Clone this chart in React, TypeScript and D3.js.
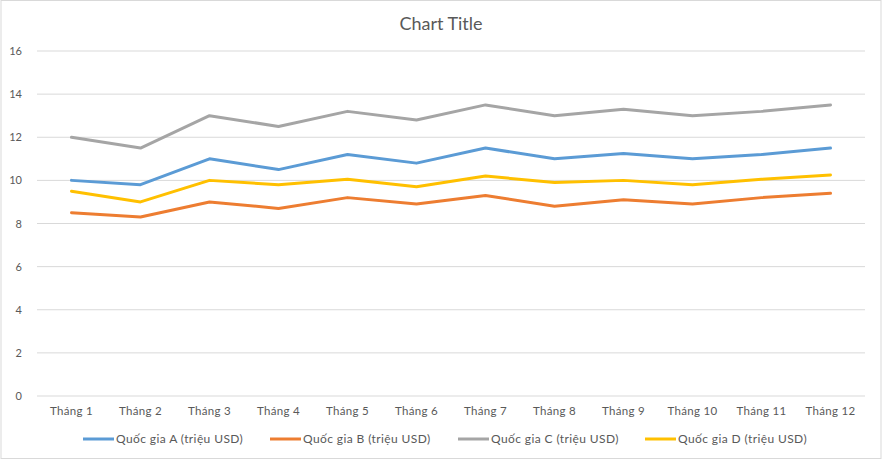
import React from "react";
import * as d3 from "d3";

const months = ["Tháng 1","Tháng 2","Tháng 3","Tháng 4","Tháng 5","Tháng 6","Tháng 7","Tháng 8","Tháng 9","Tháng 10","Tháng 11","Tháng 12"];
const seriesNames = ["Quốc gia A (triệu USD)","Quốc gia B (triệu USD)","Quốc gia C (triệu USD)","Quốc gia D (triệu USD)"];
const valuesA = [10, 9.8, 11, 10.5, 11.2, 10.8, 11.5, 11, 11.25, 11, 11.2, 11.5];
const valuesB = [8.5, 8.3, 9, 8.7, 9.2, 8.9, 9.3, 8.8, 9.1, 8.9, 9.2, 9.4];
const valuesC = [12, 11.5, 13, 12.5, 13.2, 12.8, 13.5, 13, 13.3, 13, 13.2, 13.5];
const valuesD = [9.5, 9, 10, 9.8, 10.05, 9.7, 10.2, 9.9, 10, 9.8, 10.05, 10.25];
const yTicks = [0, 2, 4, 6, 8, 10, 12, 14, 16];
const colors = ["#5B9BD5", "#ED7D31", "#A5A5A5", "#FFC000"];

const W = 885, H = 464;
const FONT = "Lato, 'Open Sans', sans-serif";

export default function App() {
  const x = d3.scaleBand<string>().domain(months).range([37, 865]);
  const y = d3.scaleLinear().domain([0, 16]).range([396, 51]);
  const all = [valuesA, valuesB, valuesC, valuesD];
  const line = d3.line<number>()
    .x((_, i) => (x(months[i]) as number) + x.bandwidth() / 2)
    .y((v) => y(v));
  const legendX = [83, 270, 458, 645];
  return (
    <svg width={W} height={H} style={{ position: "absolute", left: 0, top: 0, background: "#fff" }}>
      <rect x={1} y={0.5} width={880} height={458} fill="#fff" stroke="#D9D9D9" />
      <text x={441} y={30} textAnchor="middle" fontFamily={FONT} fontSize={18} fill="#595959">Chart Title</text>
      {yTicks.map((t) => (
        <g key={t}>
          <line x1={37} x2={865} y1={y(t)} y2={y(t)} stroke="#D9D9D9" strokeWidth={1} />
          <text x={22} y={y(t) + 4} textAnchor="end" fontFamily={FONT} fontSize={11} fill="#595959">{t}</text>
        </g>
      ))}
      {months.map((m) => (
        <text key={m} x={(x(m) as number) + x.bandwidth() / 2} y={415} textAnchor="middle" fontFamily={FONT} fontSize={11.5} letterSpacing={0.3} fill="#595959">{m}</text>
      ))}
      {all.map((vals, i) => (
        <path key={i} d={line(vals) || ""} fill="none" stroke={colors[i]} strokeWidth={3} strokeLinejoin="round" strokeLinecap="round" />
      ))}
      {seriesNames.map((n, i) => (
        <g key={n}>
          <line x1={legendX[i]} x2={legendX[i] + 31} y1={439} y2={439} stroke={colors[i]} strokeWidth={3} />
          <text x={legendX[i] + 33} y={443} fontFamily={FONT} fontSize={12} letterSpacing={0.4} fill="#595959">{n}</text>
        </g>
      ))}
    </svg>
  );
}
